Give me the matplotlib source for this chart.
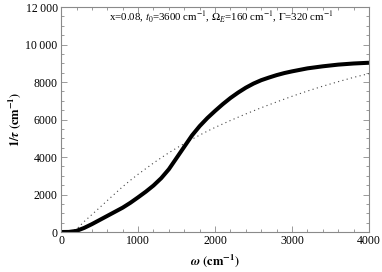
import matplotlib
matplotlib.use("Agg")
import matplotlib.pyplot as plt
from matplotlib.ticker import MultipleLocator

plt.rcParams["font.family"] = "serif"
plt.rcParams["font.serif"] = ["Liberation Serif", "DejaVu Serif"]
plt.rcParams["mathtext.fontset"] = "stix"

# values
omega_solid = [0, 100, 200, 300, 400, 500, 600, 700, 800, 900, 1000, 1100,
               1200, 1300, 1400, 1500, 1600, 1700, 1800, 1900, 2000, 2100,
               2200, 2300, 2400, 2500, 2600, 2700, 2800, 2900, 3000, 3200,
               3400, 3600, 3800, 4000]
tau_solid = [0, 5, 60, 220, 420, 640, 860, 1080, 1300, 1560, 1850, 2150,
             2480, 2870, 3350, 3950, 4550, 5150, 5650, 6080, 6460, 6820,
             7150, 7440, 7700, 7920, 8100, 8240, 8370, 8480, 8570, 8730,
             8840, 8930, 8990, 9030]

omega_dot = [0, 100, 200, 300, 400, 500, 600, 700, 800, 900, 1000, 1100,
             1200, 1300, 1400, 1500, 1600, 1700, 1800, 1900, 2000, 2200,
             2400, 2600, 2800, 3000, 3200, 3400, 3600, 3800, 4000]
tau_dot = [0, 15, 150, 560, 930, 1300, 1680, 2050, 2420, 2760, 3080, 3380,
           3680, 3960, 4230, 4480, 4720, 4950, 5170, 5380, 5580, 5950,
           6300, 6630, 6940, 7240, 7520, 7780, 8020, 8250, 8450]

x_ticks = [0, 1000, 2000, 3000, 4000]
y_ticks = [0, 2000, 4000, 6000, 8000, 10000, 12000]
y_labels = ["0", "2000", "4000", "6000", "8000", "10\u2009000", "12\u2009000"]

fig = plt.figure(figsize=(3.82, 2.72), dpi=100)
ax = fig.add_axes([0.160, 0.147, 0.806, 0.827])

ax.plot(omega_dot, tau_dot, color="#444444", lw=0.8, ls=(0, (1, 3)))
ax.plot(omega_solid, tau_solid, color="black", lw=2.9, solid_capstyle="butt",
        solid_joinstyle="round")

ax.set_xlim(0, 4000)
ax.set_ylim(0, 12000)
ax.set_xticks(x_ticks)
ax.set_xticklabels([str(v) for v in x_ticks])
ax.set_yticks(y_ticks)
ax.set_yticklabels(y_labels, family=["Liberation Serif", "DejaVu Serif"])
ax.xaxis.set_minor_locator(MultipleLocator(200))
ax.yaxis.set_minor_locator(MultipleLocator(500))

frame_col = "#8a8a8a"
for s in ax.spines.values():
    s.set_color(frame_col)
    s.set_linewidth(0.8)
ax.tick_params(which="both", direction="in", top=True, right=True,
               color=frame_col, width=0.6, labelsize=8.5, pad=2.5)
ax.tick_params(which="major", length=4)
ax.tick_params(which="minor", length=2)

ax.set_xlabel(r"$\boldsymbol{\omega}$ $\mathbf{(cm^{-1})}$", fontsize=9, labelpad=4)
ax.set_ylabel(r"$\mathbf{1/}\boldsymbol{\tau}$ $\mathbf{(cm^{-1})}$", fontsize=9, labelpad=2)

ax.text(0.52, 0.955,
        r"x=0.08, $t_0$=3600 cm$^{-1}$, $\Omega_E$=160 cm$^{-1}$, $\Gamma$=320 cm$^{-1}$",
        transform=ax.transAxes, ha="center", va="center", fontsize=7.8)

fig.savefig("out.png", dpi=100)
